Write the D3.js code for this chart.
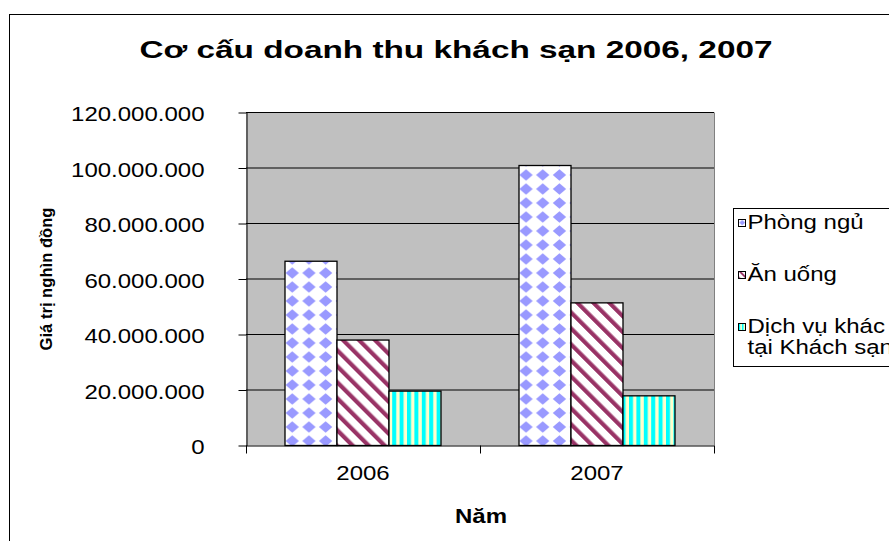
<!DOCTYPE html>
<html>
<head>
<meta charset="utf-8">
<script src="https://cdn.jsdelivr.net/npm/d3@7"></script>
<style>
body { margin:0; background:#fff; }
text { font-family: "Liberation Sans", Arial, sans-serif; fill:#000; }
</style>
</head>
<body>
<div class="chart-container"></div>
<script>
// data
var years = ['2006', '2007'];
var seriesNames = ['Phòng ngủ', 'Ăn uống', 'Dịch vụ khác tại Khách sạn'];
var phongNgu = [66400000, 100900000];
var anUong = [38000000, 51400000];
var dichVu = [19600000, 17900000];
var yTicks = [0, 20000000, 40000000, 60000000, 80000000, 100000000, 120000000];

var seriesValues = [phongNgu, anUong, dichVu];
var patternIds = ['pDiamond', 'pDiag', 'pVert'];

var W = 889, H = 541;
var plot = {left:246, right:714, top:112.5, bottom:445.5};
var stretchK = 1.2; // the picture is a little wider than tall

var svg = d3.select('.chart-container').append('svg')
	.attr('width', W)
	.attr('height', H);

var defs = svg.append('defs');

function makePatterns(suffix, s) {
	var p1 = defs.append('pattern')
		.attr('id', 'pDiamond' + suffix)
		.attr('patternUnits', 'userSpaceOnUse')
		.attr('width', 16.7 * s).attr('height', 14 * s);
	p1.append('rect').attr('width', 16.7 * s).attr('height', 14 * s).attr('fill', '#fff');
	p1.append('path')
		.attr('d', 'M' + (8.35 * s) + ',' + (1.2 * s) + 'L' + (15 * s) + ',' + (7 * s) + 'L' + (8.35 * s) + ',' + (12.8 * s) + 'L' + (1.7 * s) + ',' + (7 * s) + 'Z')
		.attr('fill', '#9999ff');

	var p2 = defs.append('pattern')
		.attr('id', 'pDiag' + suffix)
		.attr('patternUnits', 'userSpaceOnUse')
		.attr('width', 11.3 * s).attr('height', 11.3 * s)
		.attr('patternTransform', 'rotate(-45)');
	p2.append('rect').attr('width', 11.3 * s).attr('height', 11.3 * s).attr('fill', '#fff');
	p2.append('rect').attr('width', 4.2 * s).attr('height', 11.3 * s).attr('fill', '#993366');

	var p3 = defs.append('pattern')
		.attr('id', 'pVert' + suffix)
		.attr('patternUnits', 'userSpaceOnUse')
		.attr('width', 7.4 * s).attr('height', 10);
	p3.append('rect').attr('width', 7.4 * s).attr('height', 10).attr('fill', '#ffffcc');
	p3.append('rect').attr('width', 4 * s).attr('height', 10).attr('fill', '#00ffff');
}
makePatterns('', 1);
makePatterns('Small', 0.45);

function stretch(sel, k) {
	sel.each(function() {
		var w = this.getComputedTextLength();
		d3.select(this).attr('textLength', w * k).attr('lengthAdjust', 'spacingAndGlyphs');
	});
}

// outer chart frame
svg.append('rect')
	.attr('x', 9.5).attr('y', 14.5)
	.attr('width', 1000).attr('height', 1000)
	.attr('fill', 'none').attr('stroke', '#000');

// title
svg.append('text')
	.text('Cơ cấu doanh thu khách sạn 2006, 2007')
	.attr('x', 456).attr('y', 57.5)
	.style('font-size', '23px').style('font-weight', 'bold')
	.style('text-anchor', 'middle')
	.attr('textLength', 633).attr('lengthAdjust', 'spacingAndGlyphs');

var x = d3.scaleBand().domain(years).range([plot.left, plot.right]);
var barW = x.bandwidth() / 4.5;
var xSub = d3.scaleBand().domain(seriesNames)
	.range([barW * 0.75, x.bandwidth() - barW * 0.75]);
var y = d3.scaleLinear().domain([0, 120000000]).range([plot.bottom, plot.top]);

var vn = d3.formatLocale({decimal:',', thousands:'.', grouping:[3], currency:['', '']});
var fmt = vn.format(',');

// plot background
svg.append('rect')
	.attr('x', plot.left).attr('y', plot.top)
	.attr('width', plot.right - plot.left).attr('height', plot.bottom - plot.top)
	.attr('fill', '#c0c0c0');
svg.append('line')
	.attr('x1', plot.right + 0.5).attr('x2', plot.right + 0.5)
	.attr('y1', plot.top).attr('y2', plot.bottom)
	.attr('stroke', '#808080');

// gridlines
svg.append('g').selectAll('line')
	.data(yTicks.filter(function(d) { return d > 0; }))
	.enter().append('line')
	.attr('x1', plot.left).attr('x2', plot.right)
	.attr('y1', function(d) { return y(d); })
	.attr('y2', function(d) { return y(d); })
	.attr('stroke', '#000').attr('stroke-width', 1);

// bars
var rows = [];
years.forEach(function(yr, i) {
	seriesNames.forEach(function(s, j) {
		rows.push({year:yr, series:s, value:seriesValues[j][i], pat:patternIds[j]});
	});
});

svg.append('g').selectAll('rect')
	.data(rows)
	.enter().append('rect')
	.attr('x', function(d) { return x(d.year) + xSub(d.series); })
	.attr('y', function(d) { return y(d.value); })
	.attr('width', xSub.bandwidth())
	.attr('height', function(d) { return y(0) - y(d.value); })
	.attr('fill', function(d) { return 'url(#' + d.pat + ')'; })
	.attr('stroke', '#000').attr('stroke-width', 1.3);

// y axis
var yAxis = d3.axisLeft(y)
	.tickValues(yTicks)
	.tickFormat(fmt)
	.tickSizeInner(8).tickSizeOuter(0)
	.tickPadding(34);
var gy = svg.append('g')
	.attr('transform', 'translate(' + (plot.left + 0.5) + ',0)')
	.call(yAxis);
gy.select('.domain').attr('stroke', '#000');
gy.selectAll('.tick text')
	.style('font-family', '"Liberation Sans", Arial, sans-serif')
	.style('font-size', '20px')
	.attr('dy', '0.42em');
stretch(gy.selectAll('.tick text'), stretchK);

// x axis: labels centered, ticks on the category borders
var xAxis = d3.axisBottom(x).tickSize(0).tickPadding(28);
var gx = svg.append('g')
	.attr('transform', 'translate(0,' + (plot.bottom + 0.5) + ')')
	.call(xAxis);
gx.select('.domain').remove();
gx.selectAll('.tick text')
	.style('font-family', '"Liberation Sans", Arial, sans-serif')
	.style('font-size', '20px')
	.attr('dy', '0.32em');
stretch(gx.selectAll('.tick text'), stretchK);

var edges = years.map(function(d) { return x(d); }).concat([x.range()[1]]);
svg.append('line')
	.attr('x1', plot.left).attr('x2', plot.right)
	.attr('y1', plot.bottom + 0.5).attr('y2', plot.bottom + 0.5)
	.attr('stroke', '#000');
svg.append('g').selectAll('line')
	.data(edges)
	.enter().append('line')
	.attr('x1', function(d) { return d + 0.5; })
	.attr('x2', function(d) { return d + 0.5; })
	.attr('y1', plot.bottom).attr('y2', plot.bottom + 8)
	.attr('stroke', '#000');

// axis titles
var xt = svg.append('text')
	.text('Năm')
	.attr('x', 481).attr('y', 523)
	.style('font-size', '20px').style('font-weight', 'bold')
	.style('text-anchor', 'middle');
stretch(xt, stretchK);

svg.append('text')
	.text('Giá trị nghìn đồng')
	.attr('transform', 'translate(52,279) rotate(-90)')
	.style('font-size', '16px').style('font-weight', 'bold')
	.style('text-anchor', 'middle')
	.attr('textLength', 143).attr('lengthAdjust', 'spacingAndGlyphs');

// legend
svg.append('rect')
	.attr('x', 733.5).attr('y', 208.5)
	.attr('width', 300).attr('height', 158)
	.attr('fill', '#fff').attr('stroke', '#000');

var legendLines = [['Phòng ngủ'], ['Ăn uống'], ['Dịch vụ khác', 'tại Khách sạn']];
var legendTop = [219.5, 271.5, 323.5];

var legend = svg.selectAll('.legend')
	.data(seriesNames)
	.enter().append('g')
	.attr('class', 'legend')
	.attr('transform', function(d, i) { return 'translate(738.5,' + legendTop[i] + ')'; });

legend.append('rect')
	.attr('width', 7).attr('height', 7)
	.attr('fill', function(d, i) { return 'url(#' + patternIds[i] + 'Small)'; })
	.attr('stroke', '#000').attr('stroke-width', 1);

legend.each(function(d, i) {
	var g = d3.select(this);
	legendLines[i].forEach(function(line, k) {
		var t = g.append('text')
			.text(line)
			.attr('x', 9).attr('y', 9.5 + k * 21)
			.style('font-size', '20px');
		stretch(t, stretchK);
	});
});
</script>
</body>
</html>
